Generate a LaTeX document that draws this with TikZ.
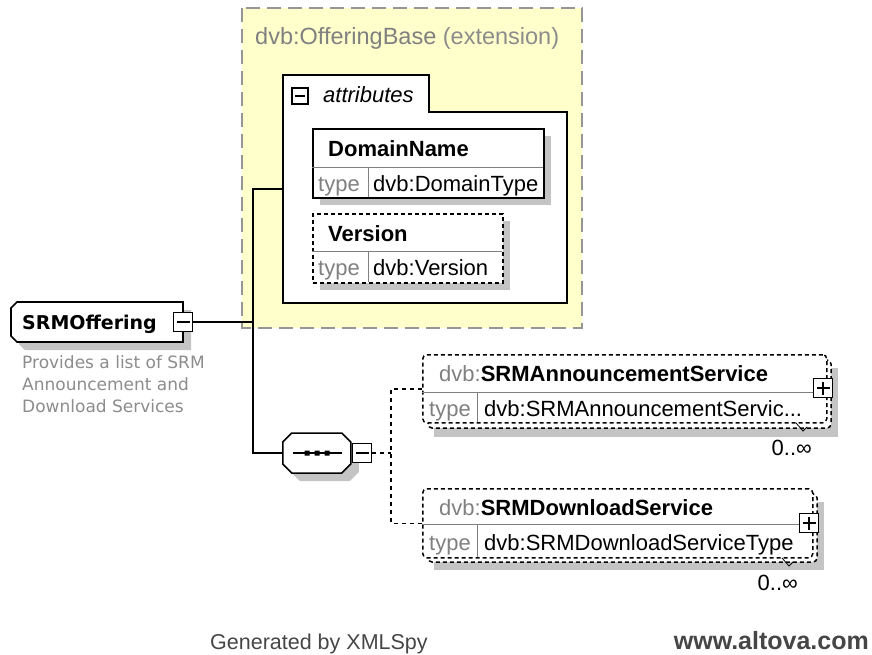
\documentclass[tikz,border=0pt]{standalone}
\usepackage{fontspec}
\setmainfont{Liberation Sans}
\newfontfamily\tahoma{DejaVu Sans}
\usetikzlibrary{positioning}
\definecolor{extfill}{RGB}{255,255,204}
\definecolor{extline}{RGB}{150,150,150}
\definecolor{shadowgray}{RGB}{196,196,196}
\definecolor{dimtext}{RGB}{128,128,128}
\definecolor{doctext}{RGB}{140,140,140}
\definecolor{foottext}{RGB}{70,70,70}
\tikzset{
  txt/.style={font=\fontsize{22}{26}\selectfont,inner sep=0pt,anchor=base west},
  dim/.style={txt,text=dimtext},
  bold txt/.style={txt,font=\fontsize{22}{26}\selectfont\bfseries},
  box/.style={draw,line width=1.7pt,fill=white,inner sep=0pt,anchor=north west},
  opt box/.style={box,line width=1.5pt,dash pattern=on 4pt off 3pt},
  back box/.style={draw,line width=1.5pt,fill=white,dash pattern=on 4pt off 3pt,rounded corners=4pt},
  sep line/.style={draw=dimtext,line width=0.9pt},
  toggle/.style={draw,fill=white,line width=1.4pt,minimum size=19pt,inner sep=0pt},
  minus/.style={toggle,path picture={\draw[line width=1.3pt]
      ([xshift=3pt]path picture bounding box.west) -- ([xshift=-3pt]path picture bounding box.east);}},
  plus/.style={toggle,path picture={\draw[line width=1.3pt]
      ([xshift=3pt]path picture bounding box.west) -- ([xshift=-3pt]path picture bounding box.east)
      ([yshift=-3pt]path picture bounding box.north) -- ([yshift=3pt]path picture bounding box.south);}},
  link/.style={line width=1.5pt},
  opt link/.style={link,dash pattern=on 4pt off 4pt}
}

\begin{document}
\begin{tikzpicture}[x=1pt,y=-1pt]
\useasboundingbox (0,0) rectangle (872,655);

\draw[extline,fill=extfill,line width=1.4pt,dash pattern=on 14pt off 7pt] (242,8) rectangle (582,328);
\node[dim,font=\fontsize{23.5}{28}\selectfont] (base) at (255,45) {dvb:OfferingBase \textcolor{doctext}{(extension)}};

\draw[link,line width=1.6pt,fill=white] (283,75) -- (429,75) -- (429,112) -- (567,112) -- (567,303) -- (283,303) -- cycle;
\coordinate (attrs) at (283,189);
\node[minus,minimum size=16pt] (attrtoggle) at (300,96) {};
\node[txt,font=\fontsize{22}{26}\selectfont\itshape] (attrlabel) at (323,103) {attributes};

\fill[shadowgray] (320,136) rectangle (551,205);
\node[box,minimum width=231pt,minimum height=69pt] (domain) at (312,128) {};
\draw[sep line] (312,167) -- (543,167) (368,167) -- (368,197);
\node[bold txt] (domainname) at (328,157) {DomainName};
\node[dim] (domaintype) at (318,191) {type};
\node[txt] (domainvalue) at (373,191) {dvb:DomainType};

\fill[shadowgray] (320,221) rectangle (510,290);
\node[opt box,minimum width=190pt,minimum height=69pt] (version) at (312,213) {};
\draw[sep line] (312,251) -- (502,251) (368,251) -- (368,282);
\node[bold txt] (versionname) at (328,241) {Version};
\node[dim] (versiontype) at (318,275) {type};
\node[txt] (versionvalue) at (373,275) {dvb:Version};

\fill[shadowgray] (25,310) -- (191,310) -- (191,350) -- (25,350) -- (19,344) -- (19,316) -- cycle;
\draw[line width=1.7pt,fill=white] (17,302) -- (183,302) -- (183,342) -- (17,342) -- (11,336) -- (11,308) -- cycle;
\node[txt,font=\tahoma\bfseries\fontsize{19}{23}\selectfont] (root) at (22,329) {SRMOffering};
\node[minus] (roottoggle) at (183,322) {};
\node[inner sep=0pt,anchor=north west,align=left,text=doctext,font=\tahoma\fontsize{17}{22}\selectfont] (rootdoc) at (22,355) {Provides a list of SRM\\Announcement and\\Download Services};

\node[minimum width=68pt,minimum height=40pt,inner sep=0pt] (seq) at (317,453) {};
\fill[shadowgray] ([shift={(8pt,-8pt)}]seq.west) ++(0,-11) -- ++(9,-9) -- ++(50,0) -- ++(9,9) -- ++(0,22) -- ++(-9,9) -- ++(-50,0) -- ++(-9,-9) -- cycle;
\draw[link,fill=white] (seq.west) ++(0,-11) -- ++(9,-9) -- ++(50,0) -- ++(9,9) -- ++(0,22) -- ++(-9,9) -- ++(-50,0) -- ++(-9,-9) -- cycle;
\draw[line width=1.3pt] ([xshift=-24pt]seq.center) -- ([xshift=25pt]seq.center);
\fill ([xshift=-10pt]seq.center) +(-2.5,-2.5) rectangle +(2.5,2.5)
      (seq.center) +(-2.5,-2.5) rectangle +(2.5,2.5)
      ([xshift=10pt]seq.center) +(-2.5,-2.5) rectangle +(2.5,2.5);
\node[minus] (seqtoggle) at (362,453) {};

\coordinate (trunk) at (253,322);
\draw[link] (roottoggle) -- (trunk);
\draw[link] (attrs) -| (trunk) |- (seq);

\fill[shadowgray] (434,368) rectangle (838,437);
\draw[back box] (428,360) rectangle (831,428);
\node[opt box,rounded corners=4pt,minimum width=404pt,minimum height=68pt] (announce) at (422,354) {};
\draw[sep line] (422,392) -- (826,392) (477,392) -- (477,422);
\node[dim] (announcename) at (439,381) {dvb:\textcolor{black}{\bfseries SRMAnnouncementService}};
\node[dim] (announcetype) at (429,416) {type};
\node[txt] (announcevalue) at (484,416) {dvb:SRMAnnouncementServic...};
\node[plus] (announcetoggle) at (823,388) {};
\draw[line width=0.8pt] (796,423) -- (803,431) -- (807,427);
\node[txt,anchor=base east] (announcemax) at (812,455) {0..∞};

\fill[shadowgray] (434,502) rectangle (824,570);
\draw[back box] (428,494) rectangle (817,562);
\node[opt box,rounded corners=4pt,minimum width=390pt,minimum height=69pt] (download) at (422,488) {};
\draw[sep line] (422,524) -- (812,524) (477,524) -- (477,557);
\node[dim] (downloadname) at (439,515) {dvb:\textcolor{black}{\bfseries SRMDownloadService}};
\node[dim] (downloadtype) at (429,550) {type};
\node[txt] (downloadvalue) at (484,550) {dvb:SRMDownloadServiceType};
\node[plus] (downloadtoggle) at (809,523) {};
\draw[line width=0.8pt] (782,558) -- (789,566) -- (793,562);
\node[txt,anchor=base east] (downloadmax) at (798,590) {0..∞};

\coordinate (fork) at (391,453);
\draw[opt link] (seqtoggle) -- (fork);
\draw[opt link] (announce.west) -| (fork) |- (download.west);

\node[txt,font=\fontsize{21.5}{26}\selectfont,text=foottext] (generated) at (210,649) {Generated by XMLSpy};
\node[txt,anchor=base east,font=\fontsize{25}{30}\selectfont\bfseries,text=foottext] (altova) at (869,649) {www.altova.com};
\end{tikzpicture}
\end{document}
